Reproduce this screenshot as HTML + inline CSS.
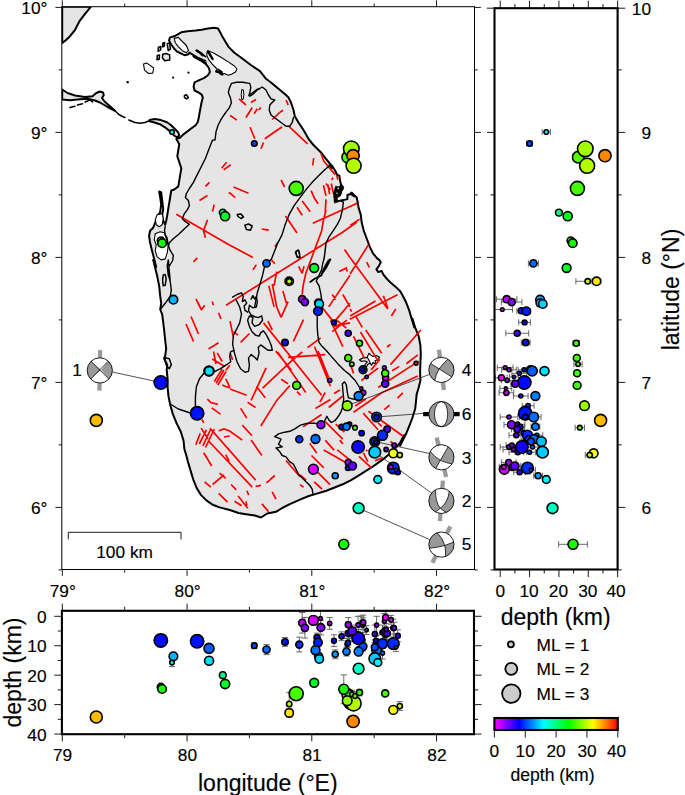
<!DOCTYPE html>
<html><head><meta charset="utf-8"><title>Sri Lanka seismicity</title>
<style>html,body{margin:0;padding:0;background:#fff}svg{display:block}svg text{font-family:"Liberation Sans",sans-serif;stroke:#000;stroke-width:0.15px}</style></head>
<body>
<svg width="685" height="795" viewBox="0 0 685 795" font-family="Liberation Sans, sans-serif">
<rect width="685" height="795" fill="#fff"/>
<defs><clipPath id="mc"><rect x="61.80" y="6.70" width="412.70" height="562.80"/></clipPath>
<clipPath id="rc"><rect x="494.50" y="8.20" width="123.10" height="561.30"/></clipPath>
<clipPath id="bc"><rect x="61.90" y="610.80" width="412.10" height="123.40"/></clipPath>
<linearGradient id="cb" x1="0" x2="1" y1="0" y2="0">
<stop offset="0.000" stop-color="hsl(300,100%,50%)"/>
<stop offset="0.050" stop-color="hsl(285,100%,50%)"/>
<stop offset="0.100" stop-color="hsl(270,100%,50%)"/>
<stop offset="0.150" stop-color="hsl(255,100%,50%)"/>
<stop offset="0.200" stop-color="hsl(240,100%,50%)"/>
<stop offset="0.250" stop-color="hsl(225,100%,50%)"/>
<stop offset="0.300" stop-color="hsl(210,100%,50%)"/>
<stop offset="0.350" stop-color="hsl(195,100%,50%)"/>
<stop offset="0.400" stop-color="hsl(180,100%,50%)"/>
<stop offset="0.450" stop-color="hsl(165,100%,50%)"/>
<stop offset="0.500" stop-color="hsl(150,100%,50%)"/>
<stop offset="0.550" stop-color="hsl(135,100%,50%)"/>
<stop offset="0.600" stop-color="hsl(120,100%,50%)"/>
<stop offset="0.650" stop-color="hsl(105,100%,50%)"/>
<stop offset="0.700" stop-color="hsl(90,100%,50%)"/>
<stop offset="0.750" stop-color="hsl(75,100%,50%)"/>
<stop offset="0.800" stop-color="hsl(60,100%,50%)"/>
<stop offset="0.850" stop-color="hsl(45,100%,50%)"/>
<stop offset="0.900" stop-color="hsl(30,100%,50%)"/>
<stop offset="0.950" stop-color="hsl(15,100%,50%)"/>
<stop offset="1.000" stop-color="hsl(0,100%,50%)"/>
</linearGradient></defs>
<g clip-path="url(#mc)">
<g fill="#e5e5e5" stroke="#000" stroke-width="2" stroke-linejoin="round">
<path d="M62.2,6.8 L90.8,6.8 L85.0,13.8 L79.5,21.2 L77.5,25.0 L75.0,30.0 L70.0,36.2 L65.5,40.5 L62.2,43.0Z"/>
<path d="M62.2,89.5 L67.5,93.0 L75.0,95.5 L85.0,97.0 L92.5,96.2 L96.2,93.0 L100.0,91.5 L103.0,92.5 L103.8,95.0 L102.0,98.0 L105.0,102.0 L110.0,106.2 L115.0,110.8 L107.5,107.0 L100.0,102.5 L95.0,100.5 L87.5,98.8 L80.0,99.2 L70.0,100.2 L62.2,99.5Z"/>
<path d="M170.1,37.4 L174.2,36.3 L181.3,32.3 L187.4,31.2 L195.6,30.6 L201.7,29.8 L207.9,28.6 L214.0,27.8 L218.1,28.6 L220.1,32.3 L222.2,36.3 L225.3,41.5 L228.3,46.6 L234.4,52.7 L242.6,58.8 L250.8,65.0 L260.0,71.1 L266.0,78.8 L271.0,82.5 L278.5,88.8 L286.0,95.0 L288.5,97.5 L291.0,102.5 L293.5,110.0 L294.8,116.2 L298.5,122.5 L303.5,130.0 L308.5,138.8 L313.5,145.0 L318.5,150.0 L322.2,153.8 L326.0,158.8 L331.0,165.0 L334.8,170.0 L337.2,175.0 L339.3,175.6 L340.3,181.7 L341.3,185.8 L338.2,189.9 L335.2,193.0 L334.2,197.1 L337.2,201.2 L343.4,200.1 L347.4,199.1 L347.4,195.0 L350.5,194.0 L353.6,195.0 L356.6,197.1 L357.7,202.2 L358.7,208.3 L360.7,214.4 L361.7,222.6 L363.8,230.8 L366.9,239.0 L369.9,247.1 L373.0,253.3 L377.1,258.4 L379.0,259.6 L380.8,262.2 L379.0,265.8 L376.4,269.3 L378.1,271.9 L381.7,271.1 L383.4,274.6 L387.0,279.0 L390.5,282.5 L395.8,286.9 L400.2,291.3 L402.8,295.7 L406.3,302.8 L409.0,309.8 L411.6,318.6 L414.3,327.4 L412.5,318.8 L415.2,327.6 L418.7,336.4 L420.4,345.2 L420.8,354.1 L420.4,362.9 L420.1,371.7 L420.4,380.5 L418.7,387.5 L416.6,394.6 L416.0,401.6 L415.2,408.7 L412.5,417.5 L409.9,424.5 L406.3,433.3 L402.8,440.4 L400.2,445.7 L404.0,435.2 L400.4,442.3 L396.0,447.6 L390.7,452.9 L384.6,458.1 L378.4,462.6 L372.2,467.0 L365.2,471.4 L358.1,475.8 L351.1,480.2 L344.1,483.7 L335.2,487.2 L326.4,490.7 L317.6,493.4 L308.8,496.0 L300.0,499.6 L289.8,504.2 L282.2,508.0 L276.0,511.8 L267.2,513.5 L261.0,517.5 L254.8,515.5 L246.0,514.2 L238.5,513.0 L229.8,510.0 L219.6,507.4 L212.6,504.8 L206.4,500.4 L201.1,495.1 L196.7,488.1 L193.2,479.3 L190.5,470.4 L187.9,461.6 L186.1,454.6 L184.4,449.3 L183.5,440.5 L180.8,431.7 L176.4,422.9 L172.9,414.1 L170.3,405.2 L168.5,396.4 L167.6,387.6 L167.6,378.8 L166.7,370.0 L167.2,364.7 L164.2,358.7 L165.2,355.6 L166.2,348.6 L165.2,340.5 L164.2,330.5 L163.2,322.4 L162.2,314.4 L160.2,309.3 L161.2,303.3 L160.2,296.2 L159.2,286.2 L157.2,276.1 L155.2,268.1 L153.2,260.0 L156.2,267.0 L154.2,258.9 L152.1,250.9 L150.1,242.8 L149.1,235.8 L150.1,230.7 L153.2,227.7 L155.2,222.7 L158.2,216.6 L160.2,211.6 L161.2,204.6 L160.2,197.5 L159.2,191.5 L161.2,192.5 L162.2,200.5 L163.2,208.6 L162.2,215.6 L163.2,220.7 L165.2,224.7 L166.2,220.7 L167.2,215.6 L168.3,208.6 L169.3,202.5 L170.3,196.5 L171.3,190.5 L174.3,189.5 L178.3,186.4 L179.3,180.4 L180.3,174.4 L181.3,168.3 L179.3,162.3 L177.3,156.2 L178.3,150.2 L179.3,144.2 L176.3,139.1 L180.3,137.5 L183.4,134.4 L187.4,131.4 L191.5,128.3 L195.6,125.3 L197.7,122.2 L198.7,118.1 L199.7,112.0 L200.7,106.9 L201.7,101.7 L202.8,97.7 L201.7,94.6 L198.7,92.6 L194.6,90.5 L193.6,86.4 L194.6,82.3 L198.7,80.3 L203.8,78.2 L207.9,75.2 L209.9,72.1 L208.9,68.0 L205.8,63.9 L200.7,59.9 L194.6,55.8 L189.5,52.7 L188.5,54.3 L184.4,55.2 L181.3,53.7 L177.2,51.7 L174.2,48.6 L171.1,44.5 L169.0,40.4Z"/>
<path d="M149.6,120.1 L154.7,119.1 L160.9,120.1 L167.0,122.2 L171.1,125.3 L175.2,129.3 L178.2,132.4 L179.3,135.5 L177.2,137.5 L174.2,135.5 L170.1,131.4 L165.0,127.3 L159.9,124.2 L153.7,122.2 L149.6,121.2Z"/>
</g>
<g fill="#fff" stroke="#000" stroke-width="1.1" stroke-linejoin="round">
<path d="M207.9,50.7 L213.0,52.7 L220.1,56.8 L228.3,61.9 L234.4,66.0 L236.9,69.0 L235.5,72.1 L231.4,74.2 L228.3,75.2 L224.2,73.5 L221.2,74.8 L218.1,72.1 L216.1,68.0 L212.0,63.9 L208.9,59.9 L206.9,55.8 L206.9,52.7Z"/>
<path d="M174.2,38.4 L178.2,37.4 L182.3,41.5 L186.4,45.5 L188.5,50.7 L186.4,52.7 L182.3,50.7 L178.2,46.6 L175.2,42.5Z"/>
<path d="M157.2,214.6 L162.2,213.6 L163.2,218.7 L162.2,224.7 L159.2,226.7 L156.2,224.7 L155.2,219.7Z"/>
<path d="M155.2,233.8 L160.2,231.7 L164.2,232.7 L167.2,237.8 L168.3,245.8 L167.2,252.9 L165.2,258.9 L161.2,259.9 L157.2,256.9 L155.2,250.9 L156.2,244.8 L154.2,239.8Z"/>
<path d="M367.2,357.2 L369.0,353.2 L370.7,355.1 L372.9,356.5 L376.4,355.5 L379.6,357.2 L377.8,359.7 L375.0,360.7 L375.7,364.3 L372.9,362.5 L371.5,365.3 L370.0,362.9 L369.0,360.2Z"/>
<path d="M143.5,63.9 L146.6,62.9 L153.7,68.0 L152.7,73.1 L148.6,73.5 L144.5,70.1Z"/>
<path d="M296.0,251.0 L298.5,249.8 L299.8,253.5 L299.0,257.8 L296.8,256.0Z"/>
</g>
<path d="M241.8,89.5 L243.4,89.9 L243.9,94.6 L243.2,99.3 L241.8,99.7 L241.2,94.6Z" fill="#e5e5e5" stroke="#000" stroke-width="1"/>
<path d="M370.0,362.9 L367.6,364.6 L366.2,367.4 L364.8,365.0 L367.2,361.8 L364.1,360.7 L361.6,361.5 L359.5,359.7 L363.0,357.9 L367.2,357.6" fill="none" stroke="#000" stroke-width="1.2" stroke-linejoin="round"/>
<g fill="none" stroke="#000" stroke-width="1.5" stroke-linecap="round" stroke-linejoin="round">
<path d="M115.0,110.8 L118.8,114.5 L122.5,116.5 L125.0,117.5"/>
<path d="M128.8,120.0 L135.0,122.5 L140.0,123.2 L145.0,122.5 L150.0,120.5"/>
<path d="M70.0,107.5 L75.0,106.2"/>
<path d="M77.5,105.0 L82.5,103.8"/>
<path d="M85.0,102.0 L90.0,100.0 L92.5,102.0"/>
<path d="M194.6,56.4 L200.7,58.8 L205.8,60.9"/>
<path d="M196.6,50.7 L201.7,53.7 L205.8,56.8"/>
<path d="M218.1,69.0 L222.2,72.1 L220.1,73.5"/>
<path d="M184.4,95.6 L186.4,94.8 L188.5,97.7 L186.4,98.9 L184.4,97.3 L184.4,95.6"/>
<path d="M237.2,214.5 L241.0,214.0 L243.5,217.0 L241.0,218.5 L238.0,216.5 L237.2,214.5"/>
<path d="M244.8,225.2 L248.5,224.0 L252.2,226.0 L250.5,230.2 L246.5,229.5 L244.8,225.2"/>
<path d="M163.2,275.1 L165.2,274.5 L166.2,279.1 L165.2,285.2 L163.2,285.8 L162.6,280.1 L163.2,275.1"/>
<path d="M164.2,357.6 L169.3,358.7 L171.3,364.7 L169.3,368.7 L166.6,365.7 L164.2,357.6"/>
<path d="M295.3,252.3 L298.4,250.2 L299.4,254.3 L300.4,258.4 L297.4,257.4 L295.3,252.3"/>
</g>
<g fill="none" stroke="#000" stroke-width="1.8" stroke-linecap="round" stroke-linejoin="round">
<path d="M310.2,281.9 L314.6,278.7 L319.0,276.6 L321.6,275.2"/>
<path d="M321.6,274.3 L326.0,268.1 L328.7,262.8 L330.4,259.3 L328.7,260.2 L326.0,264.6 L323.4,269.9 L321.6,274.3"/>
</g>
<g fill="#e5e5e5" stroke="#000" stroke-width="1.5" stroke-linejoin="round">
<path d="M158.5,47.2 L160.9,46.6 L160.5,50.1 L158.0,51.3Z"/>
<path d="M162.8,43.2 L164.6,42.5 L164.3,46.2 L162.6,46.9Z"/>
<path d="M157.3,55.4 L159.5,54.9 L159.2,59.3 L157.0,59.7Z"/>
<path d="M162.8,54.2 L166.1,53.5 L169.7,54.9 L169.7,60.0 L164.6,60.8 L162.4,57.8Z"/>
<path d="M167.2,43.7 L169.7,42.8 L170.4,49.1 L168.2,50.5Z"/>
</g>
<g fill="none" stroke="#000" stroke-width="2.6" stroke-linecap="round" stroke-linejoin="round">
<path d="M193.8,56.4 L200.4,60.0 L205.5,63.2"/>
<path d="M196.7,50.5 L200.4,53.0 L202.8,55.2"/>
<path d="M208.1,51.6 L210.1,54.9 L212.5,58.9"/>
<path d="M216.4,71.4 L219.8,72.0 L222.3,74.3"/>
</g>
<path d="M335.7,186.2 L338.2,186.9 L341.9,184.6 L343.7,186.9 L343.2,189.5 L341.9,191.3 L341.2,194.2 L339.9,196.4 L337.9,197.1 L336.9,199.2 L339.1,201.4 L337.2,202.1 L334.6,203.1 L334.0,200.0 L335.0,196.5 L333.0,193.6 L334.6,189.8Z" fill="#000" stroke="#000" stroke-width="0.8" stroke-linejoin="round"/>
<path d="M350.3,192.4 L352.1,192.0 L354.3,194.2 L356.1,196.4 L354.3,197.1 L352.1,195.7Z" fill="#000" stroke="#000" stroke-width="0.8" stroke-linejoin="round"/>
<path d="M327.3,165.4 L332.4,165.0 L333.9,167.9 L330.9,168.6 L328.8,167.6Z" fill="#000" stroke="#000" stroke-width="0.8" stroke-linejoin="round"/>
<circle cx="338.3" cy="188.3" r="0.9" fill="#ddd"/><circle cx="337" cy="193.2" r="0.8" fill="#ddd"/>
<circle cx="127.8" cy="82.3" r="1.1" fill="#000"/>
<circle cx="173.1" cy="77.6" r="1.1" fill="#000"/>
<circle cx="188.5" cy="72.7" r="1.1" fill="#000"/>
<circle cx="127.5" cy="82.0" r="1.1" fill="#000"/>
<g fill="none" stroke="#f00" stroke-width="1.7" stroke-linecap="butt">
<path d="M226.0,305.2 L341.8,232.8 M341.8,232.8 L357.0,222.0 M312.8,223.2 L350.0,206.4 M230.0,245.2 L252.9,257.5 M233.5,187.0 L248.5,193.2 M230.0,193.2 L235.3,197.6 M261.7,229.0 L268.8,230.2 M285.5,216.1 L297.0,232.9 M297.0,207.3 L302.2,215.2 M302.2,201.1 L310.2,211.7 M311.1,190.6 L314.6,198.5 L318.1,203.8 M326.0,183.5 L330.4,189.7 M326.0,210.0 L323.4,220.5 L321.6,231.1 L305.8,273.4 L303.1,285.7 L302.2,294.5 M298.7,266.3 L302.2,273.4 M304.0,266.3 L302.2,273.4 M268.8,285.7 L274.1,306.9 M272.3,284.0 L276.7,306.9 M276.7,271.6 L274.1,285.7 M282.9,291.0 L286.4,303.3 M288.1,301.6 L281.1,317.4 M276.7,306.9 L281.1,317.4 M252.9,269.9 L256.4,264.6 M271.4,260.2 L274.9,263.7 M274.9,247.0 L277.6,242.6 M344.5,249.6 L350.0,257.5 M339.3,271.6 L346.3,268.1 L347.2,271.6 M328.7,306.9 L350.0,275.2 M342.8,294.5 L350.0,306.9 M332.2,294.5 L335.7,299.8 M321.6,306.9 L332.2,320.1 M335.7,320.1 L350.0,303.3 M323.4,185.3 L326.0,195.9 M327.8,184.4 L329.6,194.1 M331.3,183.5 L333.1,192.3 M326.0,199.4 L325.2,213.5 M281.1,180.0 L284.6,187.0 M293.4,341.4 L303.5,319.6 M307.5,347.6 L320.7,337.9 M288.1,357.3 L325.2,354.6 M262.6,388.1 L292.6,359.9 L302.2,352.0 M275.8,351.1 L291.7,370.5 M277.6,352.0 L305.8,392.5 M263.5,322.9 L321.6,395.2 M314.6,346.7 L330.4,386.3 M318.1,351.1 L328.7,377.5 M319.9,402.2 L325.2,392.5 M315.5,408.4 L330.4,399.6 M260.8,426.0 L276.7,400.4 L289.9,385.5 M281.1,379.3 L288.1,383.7 M297.0,391.6 L300.5,395.2 M251.1,400.4 L266.1,367.8 M256.4,386.3 L265.2,397.8 M247.6,402.2 L255.6,407.5 M230.0,389.0 L246.7,395.2 M240.6,408.4 L246.7,418.1 M242.3,425.1 L252.0,435.7 M230.0,431.3 L242.3,440.1 M230.0,321.1 L233.5,337.9 M240.6,342.3 L249.4,333.5 M233.5,331.7 L237.9,335.2 M330.6,320.4 L342.8,346.7 M332.2,331.7 L346.8,320.1 M332.2,326.4 L350.0,322.9 M336.3,319.9 L346.3,328.2 M303.1,426.9 L321.6,414.5 M328.7,407.5 L342.8,396.0 M334.0,393.4 L340.1,389.9 M325.2,421.6 L342.8,439.2 M335.7,424.2 L344.5,432.2 M267.9,321.1 L272.3,330.0 M230.0,352.9 L232.6,359.9 M349.7,206.8 L357.0,203.2 M350.2,225.4 L359.6,219.1 M350.1,274.0 L368.5,244.6 M350.0,257.5 L387.8,308.9 M349.8,319.3 L397.5,294.8 M350.2,315.9 L375.5,301.0 M383.4,295.7 L387.8,308.1 M391.4,316.0 L395.8,308.9 M366.7,262.2 L369.3,267.5 M350.1,308.8 L351.7,311.6 M356.1,316.9 L362.3,327.4 M365.7,330.0 L381.7,353.2 M360.5,332.0 L378.1,361.1 M353.5,336.4 L364.1,357.6 M387.0,347.0 L390.5,344.4 M390.5,364.6 L420.8,330.0 M406.3,363.7 L417.8,354.9 M392.2,370.8 L399.3,366.4 M378.1,387.5 L418.7,361.1 M353.5,412.2 L381.7,392.8 L417.8,376.1 M397.5,398.1 L402.8,392.8 M384.3,409.6 L389.6,405.2 M363.2,413.1 L378.1,429.8 M368.5,411.3 L402.8,436.0 M371.1,369.9 L379.9,359.3 M361.4,380.5 L378.1,368.1 M350.0,362.9 L353.5,373.4 M339.8,440.1 L342.9,443.9 M325.3,440.4 L334.1,450.1 M390.5,441.3 L397.5,447.4 M378.1,422.8 L381.7,426.3 M355.2,406.0 L365.8,399.0 M337.2,449.9 L351.1,460.8 M323.7,450.0 L345.8,462.6 M309.7,443.2 L316.7,452.9 M311.5,455.5 L323.8,467.8 M317.6,472.2 L330.0,484.6 M314.1,481.9 L322.0,489.0 M300.0,474.9 L306.2,480.2 M300.0,484.6 L303.5,487.2 M359.0,456.4 L371.4,467.8 M363.4,452.9 L367.8,461.7 M366.1,451.1 L367.3,449.9 M374.9,460.8 L381.9,458.1 M216.1,383.2 L224.0,370.0 M214.3,381.5 L222.2,369.1 M217.8,385.0 L226.1,371.4 M222.2,385.0 L229.6,388.0 M225.8,378.8 L229.9,387.6 M207.3,399.1 L210.8,402.6 L217.8,404.4 M211.7,407.9 L220.5,414.1 M202.0,419.3 L203.7,422.9 M195.8,444.9 L200.2,433.4 M199.3,444.0 L206.4,429.9 M202.9,445.8 L210.8,429.0 M205.5,447.5 L214.3,429.0 M201.1,428.1 L208.1,438.7 M218.7,430.8 L224.0,429.0 L229.3,430.8 L230.0,431.4 M224.0,437.0 L229.7,436.0 M251.1,440.0 L261.9,455.5 M209.9,428.1 L255.7,480.1 M208.1,440.5 L252.2,487.2 M225.8,454.6 L229.3,461.6 M203.7,452.8 L211.7,466.0 M212.6,484.5 L224.0,474.8 M219.6,473.1 L225.8,478.4 M204.6,481.9 L210.8,487.2 M231.1,484.5 L236.3,489.8 M218.7,493.3 L227.5,502.2 M234.6,501.3 L241.6,505.7 M238.1,496.0 L247.8,508.3 M246.9,490.7 L248.7,495.1 M246.0,501.3 L246.9,505.7 M255.7,486.3 L261.0,485.4 M266.3,482.8 L270.0,480.1 M261.9,503.9 L267.2,510.1 M289.2,126.6 L307.6,143.9 M312.7,165.4 L313.7,158.2 M320.9,153.1 L323.9,161.3 L335.2,174.6 M331.6,179.9 L333.1,177.7 M336.8,175.6 L337.9,179.8 M286.1,100.0 L288.2,105.1 M280.0,112.3 L283.1,110.2 M280.0,128.6 L282.0,126.6 M176.3,214.2 L229.8,245.2 M207.5,219.7 L203.5,230.7 L205.5,237.8 M221.6,168.3 L226.6,162.3 M223.6,169.9 L230.7,164.7 M205.5,186.4 L209.5,182.4 M199.5,200.5 L207.5,195.5 M228.7,192.5 L230.1,193.5 M212.5,211.6 L214.2,204.6 M193.4,261.9 L197.4,257.9 M239.0,98.8 L246.0,105.0 M251.0,102.5 L256.0,99.5 M246.0,117.5 L252.2,107.5 M254.2,113.8 L257.2,108.8 M258.5,110.0 L261.0,107.5 M230.2,115.5 L236.9,120.1 M250.1,127.2 L254.8,138.8 M264.8,138.8 L280.3,128.0 M272.2,119.5 L279.8,112.3 M261.0,148.8 L263.5,142.5 M196.0,299.0 L201.0,309.0 M191.0,316.5 L198.5,334.0 M186.0,324.0 L193.5,341.5 M201.0,310.2 L204.8,305.2 M212.2,301.5 L213.5,305.2 M218.5,312.8 L221.0,319.0 M208.5,349.0 L218.5,342.8 M213.5,351.5 L216.0,364.0 M217.2,352.8 L222.2,361.5 M212.2,359.0 L224.8,366.5 M225.8,370.2 L229.8,365.2 M269.8,479.8 L274.8,475.5 M267.0,509.8 L268.5,511.8 M272.2,491.8 L276.0,499.2 M286.0,460.5 L299.9,476.8"/>
</g>
<g fill="none" stroke="#000" stroke-width="1.4" stroke-linejoin="round" stroke-linecap="round">
<path d="M260.0,88.5 L256.9,89.5 L252.8,92.6 L248.8,95.6 L249.8,92.6 L250.8,87.4 L249.8,83.4 L242.6,82.3 L236.5,82.3 L231.4,83.4 L229.3,88.5 L228.3,92.6 L230.4,97.7 L231.4,102.8 L229.3,107.9 L225.3,113.0 L221.2,119.1 L218.1,125.3 L216.1,131.4 L215.0,140.0 L212.5,140.1 L208.5,150.2 L205.5,158.3 L201.5,166.3 L197.4,174.4 L193.4,182.4 L189.4,188.5 L186.4,193.5 L185.4,197.5 L188.4,200.5 L189.4,205.6 L187.4,209.6 L184.4,213.6 L182.3,218.7 L185.4,221.7 L189.4,224.3 L184.4,228.7 L179.3,233.8 L173.3,238.8 L169.3,242.8 L168.3,246.8"/>
<path d="M249.8,96.2 L253.5,93.8 L257.2,90.0 L262.2,87.0 L266.0,90.0 L268.5,95.0 L271.0,98.8 L274.8,100.0 L272.2,102.5 L269.8,105.0 L269.2,110.0 L271.0,115.0 L276.0,118.8 L281.0,122.5 L286.0,126.2 L289.8,126.2 L292.2,122.5 L293.5,117.5"/>
<path d="M330.1,165.4 L325.0,169.5 L318.8,175.6 L312.7,181.7 L306.6,188.9 L300.4,197.1 L294.3,205.3 L289.2,214.4 L285.1,224.7 L282.0,234.9 L277.6,243.4 L274.1,252.2 L271.4,259.3 L267.9,261.9 L264.4,267.2 L262.6,275.2 L260.0,284.0 L257.3,292.8 L255.6,301.6 L254.7,306.9"/>
<path d="M341.3,201.2 L343.4,202.2 L342.3,210.4 L340.3,218.5 L337.2,224.7 L333.1,230.8 L329.0,236.9 L326.0,243.1 L325.0,251.2 L323.9,260.0 L326.0,243.4 L325.2,250.5 L324.3,257.5 L322.5,264.6 L321.6,269.9 L319.0,275.2 L316.3,281.3 L319.0,285.7 L320.7,292.8 L321.6,299.8 L321.6,303.3 L317.2,310.6 L317.2,317.6 L317.2,326.4 L317.8,335.2 L319.0,342.3 L321.6,345.8 L326.0,350.2 L331.3,356.4 L337.5,363.4 L344.5,370.5 L350.0,374.9 L350.8,376.1 L355.2,380.5 L359.6,387.5 L361.4,392.8"/>
<path d="M236.2,300.0 L239.7,307.0 L241.5,314.1 L239.7,322.9 L236.2,330.0 L233.5,335.2 L232.6,344.1 L234.4,352.9 L237.0,361.7 L240.6,368.7 L245.0,372.2 L248.5,371.4 L249.4,365.2 L248.5,358.1 L251.1,354.6 L254.7,357.3 L257.3,359.9 L259.1,352.9 L258.2,347.6 L260.8,344.9 L264.4,347.6 L267.9,350.2 L272.3,350.2 L271.4,345.8 L268.8,339.6 L266.1,334.4 L263.5,330.8 L260.8,332.6 L259.1,336.1 L255.6,335.2 L252.0,331.7 L249.4,326.4 L247.6,320.3 L249.4,315.9 L252.9,317.6 L252.0,322.9 L254.7,326.4 L259.1,324.7 L262.6,320.3 L261.7,315.9 L258.2,317.6 L254.7,316.7 L251.1,315.0 L248.5,310.6 L249.4,305.3 L252.9,307.9 L256.4,307.0 L257.3,301.8 L256.4,296.5 L254.7,299.1 L252.9,295.6 L251.1,299.1"/>
<path d="M232.6,297.2 L237.0,294.5 L241.5,292.8 L243.2,296.3 L242.3,301.6 L245.0,299.8 L246.7,303.3 L244.1,306.0 L245.0,310.4 L247.6,312.2"/>
<path d="M233.7,350.6 L230.7,351.6 L229.7,356.6 L230.7,361.7 L226.6,364.7 L220.6,368.7 L214.6,371.7 L206.5,370.7 L203.5,373.8 L199.5,378.8 L196.4,386.8 L195.4,396.9 L195.4,409.0 L190.4,413.0 L178.3,409.0 L170.3,404.0"/>
<path d="M274.9,436.6 L278.5,433.9 L284.6,432.2 L289.9,431.3 L295.2,428.6 L300.5,425.1 L307.5,423.3 L314.6,423.3 L319.9,424.2 L324.3,421.6 L326.9,416.3 L328.7,419.8 L331.3,422.5 L334.8,420.7 L338.4,416.3 L341.0,411.9 L342.8,406.6 L343.7,398.7 L342.8,389.9 L342.4,383.7 L344.5,381.9 L346.3,384.6 L347.2,391.6 L348.4,397.8 L351.6,398.7 L356.9,399.6"/>
<path d="M274.9,436.6 L281.0,439.2 L278.5,444.2 L282.2,446.8 L276.0,448.0 L279.8,451.8 L282.2,455.5 L286.0,456.8 L289.8,461.8 L293.5,464.2 L296.0,469.2 L298.5,474.2 L304.8,480.5 L309.8,485.5 L312.2,489.2 L313.0,494.2"/>
<path d="M165.2,226.5 L164.5,230.3 L165.2,235.3 L167.0,240.3 L168.3,245.4 L170.2,250.4 L173.3,255.4 L172.7,260.5 L169.6,265.5 L167.7,270.5 L168.3,275.6 L170.2,280.6 L168.3,260.0 L167.2,266.0 L168.3,274.1 L170.3,282.1 L171.3,290.2 L170.3,296.2 L165.2,303.3 L161.2,308.3"/>
</g>
<path d="M68.3,539.3 V532.3 H181 V539.3" fill="none" stroke="#000" stroke-width="0.9"/>
<text x="124.6" y="558" font-size="17.3" text-anchor="middle">100 km</text>
</g>
<g stroke="#1a1a1a" stroke-width="0.75">
<line x1="112.4" y1="372.0" x2="160.8" y2="382.5"/>
<line x1="429.3" y1="374.5" x2="347.2" y2="405.7"/>
<line x1="428.8" y1="413.0" x2="376.6" y2="417.0"/>
<line x1="429.5" y1="453.5" x2="374.8" y2="441.5"/>
<line x1="431.5" y1="493.0" x2="374.8" y2="452.2"/>
<line x1="429.5" y1="539.5" x2="358.6" y2="508.2"/>
</g>
<g stroke="#000" stroke-width="1.6">
<circle cx="358.1" cy="447.0" r="2.2" fill="hsl(278,100%,50%)"/>
<circle cx="358.1" cy="447.0" r="2.0" fill="hsl(218,100%,50%)"/>
<circle cx="382.5" cy="435.3" r="2.5" fill="hsl(259,100%,50%)"/>
<circle cx="382.5" cy="435.3" r="2.0" fill="hsl(206,100%,50%)"/>
<circle cx="393.3" cy="468.0" r="2.5" fill="hsl(270,100%,50%)"/>
<circle cx="374.8" cy="452.2" r="2.5" fill="hsl(255,100%,50%)"/>
<circle cx="374.8" cy="452.2" r="2.0" fill="hsl(225,100%,50%)"/>
<circle cx="376.6" cy="417.0" r="2.0" fill="hsl(278,100%,50%)"/>
<circle cx="358.6" cy="396.0" r="2.0" fill="hsl(248,100%,50%)"/>
<circle cx="347.2" cy="405.7" r="2.2" fill="hsl(229,100%,50%)"/>
<circle cx="385.2" cy="373.3" r="2.0" fill="hsl(251,100%,50%)"/>
<circle cx="363.0" cy="369.8" r="2.0" fill="hsl(278,100%,50%)"/>
<circle cx="172.0" cy="132.0" r="2.3" fill="hsl(182,100%,50%)"/>
<circle cx="254.3" cy="143.5" r="2.8" fill="hsl(225,100%,50%)"/>
<circle cx="347.8" cy="157.2" r="5.8" fill="hsl(100,100%,50%)"/>
<circle cx="351.3" cy="148.8" r="7.8" fill="hsl(82,100%,50%)"/>
<circle cx="353.1" cy="155.7" r="6.1" fill="hsl(32,100%,50%)"/>
<circle cx="353.6" cy="165.8" r="7.5" fill="hsl(78,100%,50%)"/>
<circle cx="222.8" cy="212.6" r="3.4" fill="hsl(150,100%,50%)"/>
<circle cx="225.1" cy="216.2" r="4.6" fill="hsl(128,100%,50%)"/>
<circle cx="160.9" cy="240.6" r="3.6" fill="hsl(120,100%,50%)"/>
<circle cx="162.1" cy="243.2" r="4.3" fill="hsl(115,100%,50%)"/>
<circle cx="266.5" cy="263.4" r="3.6" fill="hsl(215,100%,50%)"/>
<circle cx="314.2" cy="268.0" r="4.4" fill="hsl(130,100%,50%)"/>
<circle cx="289.2" cy="281.3" r="4.2" fill="hsl(54,100%,50%)"/>
<circle cx="289.2" cy="281.3" r="2.7" fill="hsl(76,100%,50%)"/>
<circle cx="302.2" cy="299.2" r="3.6" fill="hsl(284,100%,50%)"/>
<circle cx="304.9" cy="302.1" r="3.6" fill="hsl(271,100%,50%)"/>
<circle cx="173.4" cy="299.7" r="4.3" fill="hsl(198,100%,50%)"/>
<circle cx="318.6" cy="303.0" r="4.0" fill="hsl(198,100%,50%)"/>
<circle cx="319.3" cy="304.0" r="4.2" fill="hsl(191,100%,50%)"/>
<circle cx="320.5" cy="309.5" r="1.8" fill="hsl(295,100%,50%)"/>
<circle cx="317.0" cy="310.8" r="3.0" fill="hsl(246,100%,50%)"/>
<circle cx="318.0" cy="311.2" r="4.2" fill="hsl(233,100%,50%)"/>
<circle cx="334.0" cy="322.4" r="2.4" fill="hsl(238,100%,50%)"/>
<circle cx="348.2" cy="333.3" r="3.0" fill="hsl(256,100%,50%)"/>
<circle cx="285.0" cy="342.6" r="3.2" fill="hsl(235,100%,50%)"/>
<circle cx="359.5" cy="343.2" r="3.0" fill="hsl(106,100%,50%)"/>
<circle cx="348.2" cy="358.0" r="3.5" fill="hsl(104,100%,50%)"/>
<circle cx="351.8" cy="364.2" r="2.2" fill="hsl(101,100%,50%)"/>
<circle cx="416.0" cy="363.2" r="1.9" fill="hsl(4,100%,50%)"/>
<circle cx="384.3" cy="367.6" r="1.9" fill="hsl(287,100%,50%)"/>
<circle cx="363.0" cy="369.8" r="3.9" fill="hsl(223,100%,50%)"/>
<circle cx="363.0" cy="369.8" r="2.0" fill="hsl(239,100%,50%)"/>
<circle cx="209.0" cy="371.0" r="5.0" fill="hsl(218,100%,50%)"/>
<circle cx="209.1" cy="371.1" r="4.5" fill="hsl(187,100%,50%)"/>
<circle cx="385.6" cy="377.8" r="3.0" fill="hsl(297,100%,50%)"/>
<circle cx="385.2" cy="373.3" r="3.5" fill="hsl(104,100%,50%)"/>
<circle cx="366.6" cy="377.0" r="1.7" fill="hsl(265,100%,50%)"/>
<circle cx="329.7" cy="380.3" r="2.1" fill="hsl(282,100%,50%)"/>
<circle cx="160.8" cy="382.5" r="6.7" fill="hsl(238,100%,50%)"/>
<circle cx="385.2" cy="383.8" r="3.5" fill="hsl(262,100%,50%)"/>
<circle cx="296.6" cy="385.4" r="3.9" fill="hsl(104,100%,50%)"/>
<circle cx="296.2" cy="188.4" r="7.0" fill="hsl(103,100%,50%)"/>
<circle cx="361.4" cy="388.4" r="1.5" fill="hsl(286,100%,50%)"/>
<circle cx="363.2" cy="392.8" r="2.6" fill="hsl(284,100%,50%)"/>
<circle cx="358.6" cy="396.0" r="4.4" fill="hsl(210,100%,50%)"/>
<circle cx="347.2" cy="405.7" r="4.8" fill="hsl(85,100%,50%)"/>
<circle cx="197.1" cy="413.3" r="6.7" fill="hsl(236,100%,50%)"/>
<circle cx="376.6" cy="417.0" r="4.8" fill="hsl(214,100%,50%)"/>
<circle cx="376.6" cy="417.0" r="2.6" fill="hsl(236,100%,50%)"/>
<circle cx="96.3" cy="420.4" r="6.0" fill="hsl(44,100%,50%)"/>
<circle cx="320.9" cy="424.7" r="3.9" fill="hsl(272,100%,50%)"/>
<circle cx="349.5" cy="424.3" r="2.2" fill="hsl(256,100%,50%)"/>
<circle cx="341.6" cy="427.0" r="2.6" fill="hsl(249,100%,50%)"/>
<circle cx="346.5" cy="426.7" r="3.6" fill="hsl(210,100%,50%)"/>
<circle cx="355.0" cy="427.7" r="2.3" fill="hsl(97,100%,50%)"/>
<circle cx="387.1" cy="429.3" r="3.2" fill="hsl(256,100%,50%)"/>
<circle cx="361.6" cy="433.2" r="2.6" fill="hsl(240,100%,50%)"/>
<circle cx="382.5" cy="435.3" r="5.0" fill="hsl(230,100%,50%)"/>
<circle cx="299.3" cy="439.3" r="3.5" fill="hsl(228,100%,50%)"/>
<circle cx="315.5" cy="439.0" r="4.4" fill="hsl(214,100%,50%)"/>
<circle cx="374.8" cy="441.5" r="4.8" fill="hsl(195,100%,50%)"/>
<circle cx="374.8" cy="441.5" r="3.4" fill="hsl(221,100%,50%)"/>
<circle cx="375.8" cy="442.3" r="2.2" fill="hsl(238,100%,50%)"/>
<circle cx="394.2" cy="445.3" r="2.3" fill="hsl(270,100%,50%)"/>
<circle cx="358.1" cy="447.0" r="6.2" fill="hsl(244,100%,50%)"/>
<circle cx="386.1" cy="449.5" r="2.1" fill="hsl(266,100%,50%)"/>
<circle cx="374.8" cy="452.2" r="5.8" fill="hsl(192,100%,50%)"/>
<circle cx="393.3" cy="453.3" r="4.4" fill="hsl(62,100%,50%)"/>
<circle cx="399.8" cy="455.1" r="2.6" fill="hsl(71,100%,50%)"/>
<circle cx="348.0" cy="468.0" r="2.5" fill="hsl(232,100%,50%)"/>
<circle cx="348.3" cy="462.5" r="3.0" fill="hsl(278,100%,50%)"/>
<circle cx="352.4" cy="466.0" r="4.0" fill="hsl(262,100%,50%)"/>
<circle cx="313.4" cy="469.2" r="4.9" fill="hsl(290,100%,50%)"/>
<circle cx="393.3" cy="468.0" r="5.8" fill="hsl(230,100%,50%)"/>
<circle cx="391.0" cy="467.0" r="2.3" fill="hsl(291,100%,50%)"/>
<circle cx="397.8" cy="472.2" r="2.5" fill="hsl(250,100%,50%)"/>
<circle cx="396.0" cy="470.0" r="1.7" fill="hsl(221,100%,50%)"/>
<circle cx="335.2" cy="475.7" r="3.0" fill="hsl(203,100%,50%)"/>
<circle cx="377.8" cy="479.5" r="3.9" fill="hsl(182,100%,50%)"/>
<circle cx="358.6" cy="508.2" r="5.4" fill="hsl(166,100%,50%)"/>
<circle cx="343.8" cy="544.3" r="5.0" fill="hsl(114,100%,50%)"/>
</g>
<rect x="61.80" y="6.70" width="412.70" height="562.80" fill="none" stroke="#000" stroke-width="1"/>
<path d="M62.30,569.50 v6.4 M62.30,6.70 v-6.4 M124.67,569.50 v3.2 M124.67,6.70 v-3.2 M187.05,569.50 v6.4 M187.05,6.70 v-6.4 M249.43,569.50 v3.2 M249.43,6.70 v-3.2 M311.80,569.50 v6.4 M311.80,6.70 v-6.4 M374.18,569.50 v3.2 M374.18,6.70 v-3.2 M436.55,569.50 v6.4 M436.55,6.70 v-6.4 M61.80,569.90 h-3.2 M474.50,569.90 h3.2 M61.80,507.40 h-6.4 M474.50,507.40 h6.4 M61.80,444.90 h-3.2 M474.50,444.90 h3.2 M61.80,382.40 h-6.4 M474.50,382.40 h6.4 M61.80,319.90 h-3.2 M474.50,319.90 h3.2 M61.80,257.40 h-6.4 M474.50,257.40 h6.4 M61.80,194.90 h-3.2 M474.50,194.90 h3.2 M61.80,132.40 h-6.4 M474.50,132.40 h6.4 M61.80,69.90 h-3.2 M474.50,69.90 h3.2 M61.80,7.40 h-6.4 M474.50,7.40 h6.4" stroke="#000" stroke-width="0.9" fill="none"/>
<g font-size="17.3">
<text x="47.5" y="513.9" text-anchor="end">6°</text>
<text x="47.5" y="388.9" text-anchor="end">7°</text>
<text x="47.5" y="263.9" text-anchor="end">8°</text>
<text x="47.5" y="138.9" text-anchor="end">9°</text>
<text x="47.5" y="13.9" text-anchor="end">10°</text>
<text x="62.8" y="596.5" text-anchor="middle">79°</text>
<text x="187.6" y="596.5" text-anchor="middle">80°</text>
<text x="312.3" y="596.5" text-anchor="middle">81°</text>
<text x="437.1" y="596.5" text-anchor="middle">82°</text>
</g>
<g transform="translate(99.80,370.40)"><rect x="-2.15" y="-20.25" width="4.30" height="40.50" fill="#999" transform="rotate(1.0)"/><g transform="scale(12.60)"><circle r="1" fill="#fff"/><path d="M0.10,-0.03 L-0.69,-0.72 A1,1 0 0 0 -0.72,0.69 Z" fill="#999"/><path d="M0.10,-0.03 L0.67,-0.74 A1,1 0 0 1 0.72,0.69 Z" fill="#999"/><path d="M-0.69,-0.72 L0.72,0.69" fill="none" stroke="#000" stroke-width="0.06"/><path d="M0.67,-0.74 L-0.72,0.69" fill="none" stroke="#000" stroke-width="0.06"/><circle r="1" fill="none" stroke="#000" stroke-width="0.07"/></g></g>
<g transform="translate(441.40,369.90)"><rect x="-2.15" y="-20.25" width="4.30" height="40.50" fill="#999" transform="rotate(-7.0)"/><g transform="scale(12.60)"><circle r="1" fill="#fff"/><path d="M-0.169,-0.078 Q0.085,-0.482 0.516,-0.857 A1,1 0 0 1 0.83,0.56 Z" fill="#999"/><path d="M-0.169,-0.078 L-0.86,-0.51 A1,1 0 0 0 -0.52,0.854 Q-0.456,0.37 -0.169,-0.078 Z" fill="#999"/><path d="M-0.86,-0.51 L0.83,0.56" fill="none" stroke="#000" stroke-width="0.06"/><path d="M0.516,-0.857 Q-0.4,-0.06 -0.52,0.854" fill="none" stroke="#000" stroke-width="0.06"/><circle r="1" fill="none" stroke="#000" stroke-width="0.07"/></g></g>
<g transform="translate(441.40,414.10)"><rect x="-2.15" y="-18.25" width="4.30" height="36.50" fill="#000" transform="rotate(90.0)"/><g transform="scale(12.60)"><circle r="1" fill="#fff"/><path d="M0,-1 A1,1 0 0 0 0,1 A0.55,1 0 0 1 0,-1 Z" fill="#999"/><path d="M0,-1 A1,1 0 0 1 0,1 A0.5,1 0 0 0 0,-1 Z" fill="#999"/><path d="M0,-1 A0.55,1 0 0 0 0,1" fill="none" stroke="#000" stroke-width="0.06"/><path d="M0,-1 A0.5,1 0 0 1 0,1" fill="none" stroke="#000" stroke-width="0.06"/><circle r="1" fill="none" stroke="#000" stroke-width="0.07"/></g></g>
<g transform="translate(441.40,457.30)"><rect x="-2.15" y="-20.25" width="4.30" height="40.50" fill="#999" transform="rotate(-13.6)"/><g transform="scale(12.60)"><circle r="1" fill="#fff"/><path d="M-0.083,0.236 Q-0.6,-0.05 -0.875,-0.47 A1,1 0 0 0 -0.444,0.895 Z" fill="#999"/><path d="M-0.083,0.236 L0.54,-0.84 A1,1 0 0 1 0.85,0.52 Q0.4,0.46 -0.083,0.236 Z" fill="#999"/><path d="M-0.875,-0.47 Q-0.6,-0.05 -0.083,0.236 Q0.4,0.46 0.85,0.52" fill="none" stroke="#000" stroke-width="0.06"/><path d="M0.54,-0.84 L-0.083,0.236 L-0.444,0.895" fill="none" stroke="#000" stroke-width="0.06"/><circle r="1" fill="none" stroke="#000" stroke-width="0.07"/></g></g>
<g transform="translate(441.40,500.90)"><rect x="-2.15" y="-20.25" width="4.30" height="40.50" fill="#999" transform="rotate(4.2)"/><g transform="scale(12.60)"><circle r="1" fill="#fff"/><path d="M-0.083,0.583 Q-0.5,0.1 -0.458,-0.889 A1,1 0 0 0 -0.47,0.883 Z" fill="#999"/><path d="M-0.083,0.583 Q0.52,0.15 0.63,-0.777 A1,1 0 0 1 0.42,0.907 Q0.15,0.8 -0.083,0.583 Z" fill="#999"/><path d="M-0.458,-0.889 Q-0.5,0.1 -0.083,0.583 Q0.15,0.8 0.42,0.907" fill="none" stroke="#000" stroke-width="0.06"/><path d="M0.63,-0.777 Q0.52,0.15 -0.083,0.583 L-0.47,0.883" fill="none" stroke="#000" stroke-width="0.06"/><circle r="1" fill="none" stroke="#000" stroke-width="0.07"/></g></g>
<g transform="translate(441.40,544.60)"><rect x="-2.15" y="-20.25" width="4.30" height="40.50" fill="#999" transform="rotate(26.3)"/><g transform="scale(12.60)"><circle r="1" fill="#fff"/><path d="M0.264,0.07 Q0.12,-0.5 -0.34,-0.94 A1,1 0 0 0 -0.957,0.29 Q-0.3,0.24 0.264,0.07 Z" fill="#999"/><path d="M0.264,0.07 L0.98,-0.2 A1,1 0 0 1 0.33,0.944 Q0.36,0.5 0.264,0.07 Z" fill="#999"/><path d="M-0.34,-0.94 Q0.12,-0.5 0.264,0.07 Q0.36,0.5 0.33,0.944" fill="none" stroke="#000" stroke-width="0.06"/><path d="M-0.957,0.29 Q-0.3,0.24 0.264,0.07 L0.98,-0.2" fill="none" stroke="#000" stroke-width="0.06"/><circle r="1" fill="none" stroke="#000" stroke-width="0.07"/></g></g>
<g font-size="17.3">
<text x="72.2" y="376.2">1</text>
<text x="461.8" y="375.8">4</text>
<text x="461.8" y="419.9">6</text>
<text x="461.8" y="463.5">3</text>
<text x="461.8" y="506.8">2</text>
<text x="461.8" y="550.4">5</text>
</g>
<g clip-path="url(#rc)">
<path d="M500.2,447.0 H517.8 M500.2,443.9 v6.2 M517.8,443.9 v6.2 M526.6,447.0 H538.4 M526.6,443.9 v6.2 M538.4,443.9 v6.2 M509.0,435.3 H523.7 M509.0,432.2 v6.2 M523.7,432.2 v6.2 M531.0,435.3 H542.8 M531.0,432.2 v6.2 M542.8,432.2 v6.2 M503.1,468.0 H520.8 M503.1,464.9 v6.2 M520.8,464.9 v6.2 M509.0,452.2 H526.6 M509.0,449.1 v6.2 M526.6,449.1 v6.2 M523.7,452.2 H535.4 M523.7,449.1 v6.2 M535.4,449.1 v6.2 M500.2,417.0 H517.8 M500.2,413.9 v6.2 M517.8,413.9 v6.2 M513.4,396.0 H528.1 M513.4,392.9 v6.2 M528.1,392.9 v6.2 M522.2,405.7 H534.0 M522.2,402.6 v6.2 M534.0,402.6 v6.2 M511.9,373.3 H526.6 M511.9,370.2 v6.2 M526.6,370.2 v6.2 M501.7,369.8 H516.3 M501.7,366.7 v6.2 M516.3,366.7 v6.2 M542.2,132.0 H550.4 M542.2,128.9 v6.2 M550.4,128.9 v6.2 M526.6,143.5 H532.5 M526.6,140.4 v6.2 M532.5,140.4 v6.2 M556.0,212.6 H561.9 M556.0,209.5 v6.2 M561.9,209.5 v6.2 M528.4,263.4 H538.4 M528.4,260.3 v6.2 M538.4,260.3 v6.2 M592.1,281.3 H600.9 M592.1,278.2 v6.2 M600.9,278.2 v6.2 M575.9,281.3 H599.4 M575.9,278.2 v6.2 M599.4,278.2 v6.2 M496.4,299.2 H516.9 M496.4,296.1 v6.2 M516.9,296.1 v6.2 M501.4,302.1 H521.9 M501.4,299.0 v6.2 M521.9,299.0 v6.2 M492.0,309.5 H512.5 M492.0,306.4 v6.2 M512.5,306.4 v6.2 M516.9,310.8 H525.7 M516.9,307.7 v6.2 M525.7,307.7 v6.2 M521.9,311.2 H530.7 M521.9,308.1 v6.2 M530.7,308.1 v6.2 M518.7,322.4 H530.4 M518.7,319.3 v6.2 M530.4,319.3 v6.2 M505.8,333.3 H528.7 M505.8,330.2 v6.2 M528.7,330.2 v6.2 M521.3,342.6 H530.1 M521.3,339.5 v6.2 M530.1,339.5 v6.2 M573.0,343.2 H579.5 M573.0,340.1 v6.2 M579.5,340.1 v6.2 M573.9,364.2 H582.1 M573.9,361.1 v6.2 M582.1,361.1 v6.2 M497.3,367.6 H513.1 M497.3,364.5 v6.2 M513.1,364.5 v6.2 M526.0,369.8 H534.8 M526.0,366.7 v6.2 M534.8,366.7 v6.2 M518.1,369.8 H529.9 M518.1,366.7 v6.2 M529.9,366.7 v6.2 M541.0,371.1 H548.1 M541.0,368.0 v6.2 M548.1,368.0 v6.2 M495.5,377.8 H507.2 M495.5,374.7 v6.2 M507.2,374.7 v6.2 M509.6,377.0 H518.4 M509.6,373.9 v6.2 M518.4,373.9 v6.2 M501.4,380.3 H513.1 M501.4,377.2 v6.2 M513.1,377.2 v6.2 M510.8,383.8 H519.6 M510.8,380.7 v6.2 M519.6,380.7 v6.2 M499.9,388.4 H511.7 M499.9,385.3 v6.2 M511.7,385.3 v6.2 M499.0,392.8 H513.7 M499.0,389.7 v6.2 M513.7,389.7 v6.2 M526.3,417.0 H541.0 M526.3,413.9 v6.2 M541.0,413.9 v6.2 M519.3,417.0 H531.0 M519.3,413.9 v6.2 M531.0,413.9 v6.2 M504.0,424.7 H518.7 M504.0,421.6 v6.2 M518.7,421.6 v6.2 M510.2,424.3 H524.9 M510.2,421.2 v6.2 M524.9,421.2 v6.2 M515.8,427.0 H524.6 M515.8,423.9 v6.2 M524.6,423.9 v6.2 M531.0,426.7 H539.8 M531.0,423.6 v6.2 M539.8,423.6 v6.2 M575.1,427.7 H584.5 M575.1,424.6 v6.2 M584.5,424.6 v6.2 M511.4,429.3 H523.1 M511.4,426.2 v6.2 M523.1,426.2 v6.2 M519.3,433.2 H528.1 M519.3,430.1 v6.2 M528.1,430.1 v6.2 M523.1,435.3 H531.9 M523.1,432.2 v6.2 M531.9,432.2 v6.2 M521.0,439.3 H535.7 M521.0,436.2 v6.2 M535.7,436.2 v6.2 M529.6,439.0 H538.4 M529.6,435.9 v6.2 M538.4,435.9 v6.2 M536.9,441.5 H545.7 M536.9,438.4 v6.2 M545.7,438.4 v6.2 M526.6,441.5 H535.4 M526.6,438.4 v6.2 M535.4,438.4 v6.2 M519.9,442.3 H528.7 M519.9,439.2 v6.2 M528.7,439.2 v6.2 M506.1,445.3 H517.8 M506.1,442.2 v6.2 M517.8,442.2 v6.2 M503.1,449.5 H523.7 M503.1,446.4 v6.2 M523.7,446.4 v6.2 M585.3,455.1 H594.2 M585.3,452.0 v6.2 M594.2,452.0 v6.2 M522.2,468.0 H531.0 M522.2,464.9 v6.2 M531.0,464.9 v6.2 M501.4,462.5 H516.1 M501.4,459.4 v6.2 M516.1,459.4 v6.2 M509.0,466.0 H520.8 M509.0,462.9 v6.2 M520.8,462.9 v6.2 M499.9,469.2 H508.7 M499.9,466.1 v6.2 M508.7,466.1 v6.2 M523.1,468.0 H531.9 M523.1,464.9 v6.2 M531.9,464.9 v6.2 M499.3,467.0 H508.1 M499.3,463.9 v6.2 M508.1,463.9 v6.2 M513.7,472.2 H525.4 M513.7,469.1 v6.2 M525.4,469.1 v6.2 M526.6,470.0 H535.4 M526.6,466.9 v6.2 M535.4,466.9 v6.2 M533.7,475.7 H542.5 M533.7,472.6 v6.2 M542.5,472.6 v6.2 M558.6,544.3 H587.4 M558.6,541.2 v6.2 M587.4,541.2 v6.2" stroke="#5a5a5a" stroke-width="0.9" fill="none"/>
<g stroke="#000" stroke-width="1.6">
<circle cx="509.0" cy="447.0" r="2.2" fill="hsl(278,100%,50%)"/>
<circle cx="532.5" cy="447.0" r="2.0" fill="hsl(218,100%,50%)"/>
<circle cx="516.3" cy="435.3" r="2.5" fill="hsl(259,100%,50%)"/>
<circle cx="536.9" cy="435.3" r="2.0" fill="hsl(206,100%,50%)"/>
<circle cx="511.9" cy="468.0" r="2.5" fill="hsl(270,100%,50%)"/>
<circle cx="517.8" cy="452.2" r="2.5" fill="hsl(255,100%,50%)"/>
<circle cx="529.6" cy="452.2" r="2.0" fill="hsl(225,100%,50%)"/>
<circle cx="509.0" cy="417.0" r="2.0" fill="hsl(278,100%,50%)"/>
<circle cx="520.8" cy="396.0" r="2.0" fill="hsl(248,100%,50%)"/>
<circle cx="528.1" cy="405.7" r="2.2" fill="hsl(229,100%,50%)"/>
<circle cx="519.3" cy="373.3" r="2.0" fill="hsl(251,100%,50%)"/>
<circle cx="509.0" cy="369.8" r="2.0" fill="hsl(278,100%,50%)"/>
<circle cx="546.3" cy="132.0" r="2.3" fill="hsl(182,100%,50%)"/>
<circle cx="529.6" cy="143.5" r="2.8" fill="hsl(225,100%,50%)"/>
<circle cx="578.3" cy="157.2" r="5.8" fill="hsl(100,100%,50%)"/>
<circle cx="585.3" cy="148.8" r="7.8" fill="hsl(82,100%,50%)"/>
<circle cx="605.0" cy="155.7" r="6.1" fill="hsl(32,100%,50%)"/>
<circle cx="587.1" cy="165.8" r="7.5" fill="hsl(78,100%,50%)"/>
<circle cx="558.9" cy="212.6" r="3.4" fill="hsl(150,100%,50%)"/>
<circle cx="567.7" cy="216.2" r="4.6" fill="hsl(128,100%,50%)"/>
<circle cx="570.7" cy="240.6" r="3.6" fill="hsl(120,100%,50%)"/>
<circle cx="572.7" cy="243.2" r="4.3" fill="hsl(115,100%,50%)"/>
<circle cx="533.4" cy="263.4" r="3.6" fill="hsl(215,100%,50%)"/>
<circle cx="566.6" cy="268.0" r="4.4" fill="hsl(130,100%,50%)"/>
<circle cx="596.5" cy="281.3" r="4.2" fill="hsl(54,100%,50%)"/>
<circle cx="587.7" cy="281.3" r="2.7" fill="hsl(76,100%,50%)"/>
<circle cx="506.7" cy="299.2" r="3.6" fill="hsl(284,100%,50%)"/>
<circle cx="511.7" cy="302.1" r="3.6" fill="hsl(271,100%,50%)"/>
<circle cx="540.1" cy="299.7" r="4.3" fill="hsl(198,100%,50%)"/>
<circle cx="540.1" cy="303.0" r="4.0" fill="hsl(198,100%,50%)"/>
<circle cx="542.8" cy="304.0" r="4.2" fill="hsl(191,100%,50%)"/>
<circle cx="502.3" cy="309.5" r="1.8" fill="hsl(295,100%,50%)"/>
<circle cx="521.3" cy="310.8" r="3.0" fill="hsl(246,100%,50%)"/>
<circle cx="526.3" cy="311.2" r="4.2" fill="hsl(233,100%,50%)"/>
<circle cx="524.6" cy="322.4" r="2.4" fill="hsl(238,100%,50%)"/>
<circle cx="517.2" cy="333.3" r="3.0" fill="hsl(256,100%,50%)"/>
<circle cx="525.7" cy="342.6" r="3.2" fill="hsl(235,100%,50%)"/>
<circle cx="576.2" cy="343.2" r="3.0" fill="hsl(106,100%,50%)"/>
<circle cx="576.8" cy="358.0" r="3.5" fill="hsl(104,100%,50%)"/>
<circle cx="578.0" cy="364.2" r="2.2" fill="hsl(101,100%,50%)"/>
<circle cx="505.2" cy="367.6" r="1.9" fill="hsl(287,100%,50%)"/>
<circle cx="530.4" cy="369.8" r="3.9" fill="hsl(223,100%,50%)"/>
<circle cx="524.0" cy="369.8" r="2.0" fill="hsl(239,100%,50%)"/>
<circle cx="532.2" cy="371.0" r="5.0" fill="hsl(218,100%,50%)"/>
<circle cx="544.5" cy="371.1" r="4.5" fill="hsl(187,100%,50%)"/>
<circle cx="501.4" cy="377.8" r="3.0" fill="hsl(297,100%,50%)"/>
<circle cx="577.1" cy="373.3" r="3.5" fill="hsl(104,100%,50%)"/>
<circle cx="514.0" cy="377.0" r="1.7" fill="hsl(265,100%,50%)"/>
<circle cx="507.2" cy="380.3" r="2.1" fill="hsl(282,100%,50%)"/>
<circle cx="524.3" cy="382.5" r="6.7" fill="hsl(238,100%,50%)"/>
<circle cx="515.2" cy="383.8" r="3.5" fill="hsl(262,100%,50%)"/>
<circle cx="577.1" cy="385.4" r="3.9" fill="hsl(104,100%,50%)"/>
<circle cx="577.4" cy="188.4" r="7.0" fill="hsl(103,100%,50%)"/>
<circle cx="505.8" cy="388.4" r="1.5" fill="hsl(286,100%,50%)"/>
<circle cx="506.4" cy="392.8" r="2.6" fill="hsl(284,100%,50%)"/>
<circle cx="535.4" cy="396.0" r="4.4" fill="hsl(210,100%,50%)"/>
<circle cx="584.5" cy="405.7" r="4.8" fill="hsl(85,100%,50%)"/>
<circle cx="525.2" cy="413.3" r="6.7" fill="hsl(236,100%,50%)"/>
<circle cx="533.7" cy="417.0" r="4.8" fill="hsl(214,100%,50%)"/>
<circle cx="525.2" cy="417.0" r="2.6" fill="hsl(236,100%,50%)"/>
<circle cx="600.6" cy="420.4" r="6.0" fill="hsl(44,100%,50%)"/>
<circle cx="511.4" cy="424.7" r="3.9" fill="hsl(272,100%,50%)"/>
<circle cx="517.5" cy="424.3" r="2.2" fill="hsl(256,100%,50%)"/>
<circle cx="520.2" cy="427.0" r="2.6" fill="hsl(249,100%,50%)"/>
<circle cx="535.4" cy="426.7" r="3.6" fill="hsl(210,100%,50%)"/>
<circle cx="579.8" cy="427.7" r="2.3" fill="hsl(97,100%,50%)"/>
<circle cx="517.2" cy="429.3" r="3.2" fill="hsl(256,100%,50%)"/>
<circle cx="523.7" cy="433.2" r="2.6" fill="hsl(240,100%,50%)"/>
<circle cx="527.5" cy="435.3" r="5.0" fill="hsl(230,100%,50%)"/>
<circle cx="528.4" cy="439.3" r="3.5" fill="hsl(228,100%,50%)"/>
<circle cx="534.0" cy="439.0" r="4.4" fill="hsl(214,100%,50%)"/>
<circle cx="541.3" cy="441.5" r="4.8" fill="hsl(195,100%,50%)"/>
<circle cx="531.0" cy="441.5" r="3.4" fill="hsl(221,100%,50%)"/>
<circle cx="524.3" cy="442.3" r="2.2" fill="hsl(238,100%,50%)"/>
<circle cx="511.9" cy="445.3" r="2.3" fill="hsl(270,100%,50%)"/>
<circle cx="521.9" cy="447.0" r="6.2" fill="hsl(244,100%,50%)"/>
<circle cx="513.4" cy="449.5" r="2.1" fill="hsl(266,100%,50%)"/>
<circle cx="542.5" cy="452.2" r="5.8" fill="hsl(192,100%,50%)"/>
<circle cx="593.6" cy="453.3" r="4.4" fill="hsl(62,100%,50%)"/>
<circle cx="589.7" cy="455.1" r="2.6" fill="hsl(71,100%,50%)"/>
<circle cx="526.6" cy="468.0" r="2.5" fill="hsl(232,100%,50%)"/>
<circle cx="508.7" cy="462.5" r="3.0" fill="hsl(278,100%,50%)"/>
<circle cx="514.9" cy="466.0" r="4.0" fill="hsl(262,100%,50%)"/>
<circle cx="504.3" cy="469.2" r="4.9" fill="hsl(290,100%,50%)"/>
<circle cx="527.5" cy="468.0" r="5.8" fill="hsl(230,100%,50%)"/>
<circle cx="503.7" cy="467.0" r="2.3" fill="hsl(291,100%,50%)"/>
<circle cx="519.6" cy="472.2" r="2.5" fill="hsl(250,100%,50%)"/>
<circle cx="531.0" cy="470.0" r="1.7" fill="hsl(221,100%,50%)"/>
<circle cx="538.1" cy="475.7" r="3.0" fill="hsl(203,100%,50%)"/>
<circle cx="546.3" cy="479.5" r="3.9" fill="hsl(182,100%,50%)"/>
<circle cx="552.5" cy="508.2" r="5.4" fill="hsl(166,100%,50%)"/>
<circle cx="573.0" cy="544.3" r="5.0" fill="hsl(114,100%,50%)"/>
</g></g>
<rect x="494.50" y="8.20" width="123.10" height="561.30" fill="none" stroke="#000" stroke-width="2.1"/>
<path d="M500.20,8.20 v-7.6 M500.20,569.50 v7.6 M514.88,8.20 v-4.1 M514.88,569.50 v4.1 M529.56,8.20 v-7.6 M529.56,569.50 v7.6 M544.24,8.20 v-4.1 M544.24,569.50 v4.1 M558.92,8.20 v-7.6 M558.92,569.50 v7.6 M573.60,8.20 v-4.1 M573.60,569.50 v4.1 M588.28,8.20 v-7.6 M588.28,569.50 v7.6 M602.96,8.20 v-4.1 M602.96,569.50 v4.1 M617.64,8.20 v-7.6 M617.64,569.50 v7.6 M494.50,569.90 h-4.1 M617.60,569.90 h4.1 M494.50,507.40 h-7.6 M617.60,507.40 h7.6 M494.50,444.90 h-4.1 M617.60,444.90 h4.1 M494.50,382.40 h-7.6 M617.60,382.40 h7.6 M494.50,319.90 h-4.1 M617.60,319.90 h4.1 M494.50,257.40 h-7.6 M617.60,257.40 h7.6 M494.50,194.90 h-4.1 M617.60,194.90 h4.1 M494.50,132.40 h-7.6 M617.60,132.40 h7.6 M494.50,69.90 h-4.1 M617.60,69.90 h4.1 M494.50,8.20 h-7.6 M617.60,8.20 h7.6" stroke="#000" stroke-width="0.9" fill="none"/>
<g font-size="17.3">
<text x="651" y="513.9" text-anchor="end">6</text>
<text x="651" y="388.9" text-anchor="end">7</text>
<text x="651" y="263.9" text-anchor="end">8</text>
<text x="651" y="138.9" text-anchor="end">9</text>
<text x="651" y="14.7" text-anchor="end">10</text>
<text x="500.2" y="597" text-anchor="middle">0</text>
<text x="529.1" y="597" text-anchor="middle">10</text>
<text x="558.4" y="597" text-anchor="middle">20</text>
<text x="587.8" y="597" text-anchor="middle">30</text>
<text x="616.1" y="597" text-anchor="middle">40</text>
</g>
<text x="555.7" y="624.8" font-size="23" text-anchor="middle">depth (km)</text>
<text transform="translate(678.5,289.5) rotate(-90)" font-size="23" text-anchor="middle">latitude (°N)</text>
<g clip-path="url(#bc)">
<path d="M358.1,616.3 V634.0 M355.0,616.3 h6.2 M355.0,634.0 h6.2 M358.1,642.8 V654.6 M355.0,642.8 h6.2 M355.0,654.6 h6.2 M382.5,625.1 V639.9 M379.4,625.1 h6.2 M379.4,639.9 h6.2 M382.5,647.2 V659.0 M379.4,647.2 h6.2 M379.4,659.0 h6.2 M393.3,619.2 V636.9 M390.2,619.2 h6.2 M390.2,636.9 h6.2 M374.8,625.1 V642.8 M371.7,625.1 h6.2 M371.7,642.8 h6.2 M374.8,639.9 V651.6 M371.7,639.9 h6.2 M371.7,651.6 h6.2 M376.6,616.3 V634.0 M373.5,616.3 h6.2 M373.5,634.0 h6.2 M358.6,629.5 V644.3 M355.5,629.5 h6.2 M355.5,644.3 h6.2 M347.2,638.4 V650.2 M344.1,638.4 h6.2 M344.1,650.2 h6.2 M385.2,628.1 V642.8 M382.1,628.1 h6.2 M382.1,642.8 h6.2 M363.0,617.8 V632.5 M359.9,617.8 h6.2 M359.9,632.5 h6.2 M172.0,658.4 V666.6 M168.9,658.4 h6.2 M168.9,666.6 h6.2 M254.3,642.8 V648.7 M251.2,642.8 h6.2 M251.2,648.7 h6.2 M222.8,672.2 V678.1 M219.7,672.2 h6.2 M219.7,678.1 h6.2 M266.5,644.6 V654.6 M263.4,644.6 h6.2 M263.4,654.6 h6.2 M289.2,708.4 V717.3 M286.1,708.4 h6.2 M286.1,717.3 h6.2 M289.2,692.3 V715.8 M286.1,692.3 h6.2 M286.1,715.8 h6.2 M302.2,612.5 V633.1 M299.1,612.5 h6.2 M299.1,633.1 h6.2 M304.9,617.5 V638.1 M301.8,617.5 h6.2 M301.8,638.1 h6.2 M320.5,608.1 V628.7 M317.4,608.1 h6.2 M317.4,628.7 h6.2 M317.0,633.1 V641.9 M313.9,633.1 h6.2 M313.9,641.9 h6.2 M318.0,638.1 V646.9 M314.9,638.1 h6.2 M314.9,646.9 h6.2 M334.0,634.8 V646.6 M330.9,634.8 h6.2 M330.9,646.6 h6.2 M348.2,621.9 V644.9 M345.1,621.9 h6.2 M345.1,644.9 h6.2 M285.0,637.5 V646.3 M281.9,637.5 h6.2 M281.9,646.3 h6.2 M359.5,689.3 V695.8 M356.4,689.3 h6.2 M356.4,695.8 h6.2 M351.8,690.2 V698.4 M348.7,690.2 h6.2 M348.7,698.4 h6.2 M384.3,613.4 V629.3 M381.2,613.4 h6.2 M381.2,629.3 h6.2 M363.0,642.2 V651.0 M359.9,642.2 h6.2 M359.9,651.0 h6.2 M363.0,634.3 V646.0 M359.9,634.3 h6.2 M359.9,646.0 h6.2 M209.1,657.2 V664.3 M206.0,657.2 h6.2 M206.0,664.3 h6.2 M385.6,611.6 V623.4 M382.5,611.6 h6.2 M382.5,623.4 h6.2 M366.6,625.7 V634.6 M363.5,625.7 h6.2 M363.5,634.6 h6.2 M329.7,617.5 V629.3 M326.6,617.5 h6.2 M326.6,629.3 h6.2 M385.2,626.9 V635.7 M382.1,626.9 h6.2 M382.1,635.7 h6.2 M361.4,616.0 V627.8 M358.3,616.0 h6.2 M358.3,627.8 h6.2 M363.2,615.1 V629.8 M360.1,615.1 h6.2 M360.1,629.8 h6.2 M376.6,642.5 V657.2 M373.5,642.5 h6.2 M373.5,657.2 h6.2 M376.6,635.4 V647.2 M373.5,635.4 h6.2 M373.5,647.2 h6.2 M320.9,620.1 V634.8 M317.8,620.1 h6.2 M317.8,634.8 h6.2 M349.5,626.3 V641.0 M346.4,626.3 h6.2 M346.4,641.0 h6.2 M341.6,631.9 V640.7 M338.5,631.9 h6.2 M338.5,640.7 h6.2 M346.5,647.2 V656.0 M343.4,647.2 h6.2 M343.4,656.0 h6.2 M355.0,691.4 V700.8 M351.9,691.4 h6.2 M351.9,700.8 h6.2 M387.1,627.5 V639.3 M384.0,627.5 h6.2 M384.0,639.3 h6.2 M361.6,635.4 V644.3 M358.5,635.4 h6.2 M358.5,644.3 h6.2 M382.5,639.3 V648.1 M379.4,639.3 h6.2 M379.4,648.1 h6.2 M299.3,637.2 V651.9 M296.2,637.2 h6.2 M296.2,651.9 h6.2 M315.5,645.7 V654.6 M312.4,645.7 h6.2 M312.4,654.6 h6.2 M374.8,653.1 V661.9 M371.7,653.1 h6.2 M371.7,661.9 h6.2 M374.8,642.8 V651.6 M371.7,642.8 h6.2 M371.7,651.6 h6.2 M375.8,636.0 V644.9 M372.7,636.0 h6.2 M372.7,644.9 h6.2 M394.2,622.2 V634.0 M391.1,622.2 h6.2 M391.1,634.0 h6.2 M386.1,619.2 V639.9 M383.0,619.2 h6.2 M383.0,639.9 h6.2 M399.8,701.7 V710.5 M396.7,701.7 h6.2 M396.7,710.5 h6.2 M348.0,638.4 V647.2 M344.9,638.4 h6.2 M344.9,647.2 h6.2 M348.3,617.5 V632.2 M345.2,617.5 h6.2 M345.2,632.2 h6.2 M352.4,625.1 V636.9 M349.3,625.1 h6.2 M349.3,636.9 h6.2 M313.4,616.0 V624.8 M310.3,616.0 h6.2 M310.3,624.8 h6.2 M393.3,639.3 V648.1 M390.2,639.3 h6.2 M390.2,648.1 h6.2 M391.0,615.4 V624.2 M387.9,615.4 h6.2 M387.9,624.2 h6.2 M397.8,629.8 V641.6 M394.7,629.8 h6.2 M394.7,641.6 h6.2 M396.0,642.8 V651.6 M392.9,642.8 h6.2 M392.9,651.6 h6.2 M335.2,649.9 V658.7 M332.1,649.9 h6.2 M332.1,658.7 h6.2 M343.8,674.9 V703.7 M340.7,674.9 h6.2 M340.7,703.7 h6.2" stroke="#5a5a5a" stroke-width="0.9" fill="none"/>
<g stroke="#000" stroke-width="1.6">
<circle cx="358.1" cy="625.1" r="2.2" fill="hsl(278,100%,50%)"/>
<circle cx="358.1" cy="648.7" r="2.0" fill="hsl(218,100%,50%)"/>
<circle cx="382.5" cy="632.5" r="2.5" fill="hsl(259,100%,50%)"/>
<circle cx="382.5" cy="653.1" r="2.0" fill="hsl(206,100%,50%)"/>
<circle cx="393.3" cy="628.1" r="2.5" fill="hsl(270,100%,50%)"/>
<circle cx="374.8" cy="634.0" r="2.5" fill="hsl(255,100%,50%)"/>
<circle cx="374.8" cy="645.7" r="2.0" fill="hsl(225,100%,50%)"/>
<circle cx="376.6" cy="625.1" r="2.0" fill="hsl(278,100%,50%)"/>
<circle cx="358.6" cy="636.9" r="2.0" fill="hsl(248,100%,50%)"/>
<circle cx="347.2" cy="644.3" r="2.2" fill="hsl(229,100%,50%)"/>
<circle cx="385.2" cy="635.4" r="2.0" fill="hsl(251,100%,50%)"/>
<circle cx="363.0" cy="625.1" r="2.0" fill="hsl(278,100%,50%)"/>
<circle cx="172.0" cy="662.5" r="2.3" fill="hsl(182,100%,50%)"/>
<circle cx="254.3" cy="645.7" r="2.8" fill="hsl(225,100%,50%)"/>
<circle cx="347.8" cy="694.6" r="5.8" fill="hsl(100,100%,50%)"/>
<circle cx="351.3" cy="701.7" r="7.8" fill="hsl(82,100%,50%)"/>
<circle cx="353.1" cy="721.4" r="6.1" fill="hsl(32,100%,50%)"/>
<circle cx="353.6" cy="703.4" r="7.5" fill="hsl(78,100%,50%)"/>
<circle cx="222.8" cy="675.2" r="3.4" fill="hsl(150,100%,50%)"/>
<circle cx="225.1" cy="684.0" r="4.6" fill="hsl(128,100%,50%)"/>
<circle cx="160.9" cy="687.0" r="3.6" fill="hsl(120,100%,50%)"/>
<circle cx="162.1" cy="689.0" r="4.3" fill="hsl(115,100%,50%)"/>
<circle cx="266.5" cy="649.6" r="3.6" fill="hsl(215,100%,50%)"/>
<circle cx="314.2" cy="682.8" r="4.4" fill="hsl(130,100%,50%)"/>
<circle cx="289.2" cy="712.9" r="4.2" fill="hsl(54,100%,50%)"/>
<circle cx="289.2" cy="704.0" r="2.7" fill="hsl(76,100%,50%)"/>
<circle cx="302.2" cy="622.8" r="3.6" fill="hsl(284,100%,50%)"/>
<circle cx="304.9" cy="627.8" r="3.6" fill="hsl(271,100%,50%)"/>
<circle cx="173.4" cy="656.3" r="4.3" fill="hsl(198,100%,50%)"/>
<circle cx="318.6" cy="656.3" r="4.0" fill="hsl(198,100%,50%)"/>
<circle cx="319.3" cy="659.0" r="4.2" fill="hsl(191,100%,50%)"/>
<circle cx="320.5" cy="618.4" r="1.8" fill="hsl(295,100%,50%)"/>
<circle cx="317.0" cy="637.5" r="3.0" fill="hsl(246,100%,50%)"/>
<circle cx="318.0" cy="642.5" r="4.2" fill="hsl(233,100%,50%)"/>
<circle cx="334.0" cy="640.7" r="2.4" fill="hsl(238,100%,50%)"/>
<circle cx="348.2" cy="633.4" r="3.0" fill="hsl(256,100%,50%)"/>
<circle cx="285.0" cy="641.9" r="3.2" fill="hsl(235,100%,50%)"/>
<circle cx="359.5" cy="692.5" r="3.0" fill="hsl(106,100%,50%)"/>
<circle cx="348.2" cy="693.1" r="3.5" fill="hsl(104,100%,50%)"/>
<circle cx="351.8" cy="694.3" r="2.2" fill="hsl(101,100%,50%)"/>
<circle cx="384.3" cy="621.3" r="1.9" fill="hsl(287,100%,50%)"/>
<circle cx="363.0" cy="646.6" r="3.9" fill="hsl(223,100%,50%)"/>
<circle cx="363.0" cy="640.1" r="2.0" fill="hsl(239,100%,50%)"/>
<circle cx="209.0" cy="648.4" r="5.0" fill="hsl(218,100%,50%)"/>
<circle cx="209.1" cy="660.8" r="4.5" fill="hsl(187,100%,50%)"/>
<circle cx="385.6" cy="617.5" r="3.0" fill="hsl(297,100%,50%)"/>
<circle cx="385.2" cy="693.4" r="3.5" fill="hsl(104,100%,50%)"/>
<circle cx="366.6" cy="630.1" r="1.7" fill="hsl(265,100%,50%)"/>
<circle cx="329.7" cy="623.4" r="2.1" fill="hsl(282,100%,50%)"/>
<circle cx="160.8" cy="640.4" r="6.7" fill="hsl(238,100%,50%)"/>
<circle cx="385.2" cy="631.3" r="3.5" fill="hsl(262,100%,50%)"/>
<circle cx="296.6" cy="693.4" r="3.9" fill="hsl(104,100%,50%)"/>
<circle cx="296.2" cy="693.7" r="7.0" fill="hsl(103,100%,50%)"/>
<circle cx="361.4" cy="621.9" r="1.5" fill="hsl(286,100%,50%)"/>
<circle cx="363.2" cy="622.5" r="2.6" fill="hsl(284,100%,50%)"/>
<circle cx="358.6" cy="651.6" r="4.4" fill="hsl(210,100%,50%)"/>
<circle cx="347.2" cy="700.8" r="4.8" fill="hsl(85,100%,50%)"/>
<circle cx="197.1" cy="641.3" r="6.7" fill="hsl(236,100%,50%)"/>
<circle cx="376.6" cy="649.9" r="4.8" fill="hsl(214,100%,50%)"/>
<circle cx="376.6" cy="641.3" r="2.6" fill="hsl(236,100%,50%)"/>
<circle cx="96.3" cy="717.0" r="6.0" fill="hsl(44,100%,50%)"/>
<circle cx="320.9" cy="627.5" r="3.9" fill="hsl(272,100%,50%)"/>
<circle cx="349.5" cy="633.7" r="2.2" fill="hsl(256,100%,50%)"/>
<circle cx="341.6" cy="636.3" r="2.6" fill="hsl(249,100%,50%)"/>
<circle cx="346.5" cy="651.6" r="3.6" fill="hsl(210,100%,50%)"/>
<circle cx="355.0" cy="696.1" r="2.3" fill="hsl(97,100%,50%)"/>
<circle cx="387.1" cy="633.4" r="3.2" fill="hsl(256,100%,50%)"/>
<circle cx="361.6" cy="639.9" r="2.6" fill="hsl(240,100%,50%)"/>
<circle cx="382.5" cy="643.7" r="5.0" fill="hsl(230,100%,50%)"/>
<circle cx="299.3" cy="644.6" r="3.5" fill="hsl(228,100%,50%)"/>
<circle cx="315.5" cy="650.2" r="4.4" fill="hsl(214,100%,50%)"/>
<circle cx="374.8" cy="657.5" r="4.8" fill="hsl(195,100%,50%)"/>
<circle cx="374.8" cy="647.2" r="3.4" fill="hsl(221,100%,50%)"/>
<circle cx="375.8" cy="640.4" r="2.2" fill="hsl(238,100%,50%)"/>
<circle cx="394.2" cy="628.1" r="2.3" fill="hsl(270,100%,50%)"/>
<circle cx="358.1" cy="638.1" r="6.2" fill="hsl(244,100%,50%)"/>
<circle cx="386.1" cy="629.5" r="2.1" fill="hsl(266,100%,50%)"/>
<circle cx="374.8" cy="658.7" r="5.8" fill="hsl(192,100%,50%)"/>
<circle cx="393.3" cy="709.9" r="4.4" fill="hsl(62,100%,50%)"/>
<circle cx="399.8" cy="706.1" r="2.6" fill="hsl(71,100%,50%)"/>
<circle cx="348.0" cy="642.8" r="2.5" fill="hsl(232,100%,50%)"/>
<circle cx="348.3" cy="624.8" r="3.0" fill="hsl(278,100%,50%)"/>
<circle cx="352.4" cy="631.0" r="4.0" fill="hsl(262,100%,50%)"/>
<circle cx="313.4" cy="620.4" r="4.9" fill="hsl(290,100%,50%)"/>
<circle cx="393.3" cy="643.7" r="5.8" fill="hsl(230,100%,50%)"/>
<circle cx="391.0" cy="619.8" r="2.3" fill="hsl(291,100%,50%)"/>
<circle cx="397.8" cy="635.7" r="2.5" fill="hsl(250,100%,50%)"/>
<circle cx="396.0" cy="647.2" r="1.7" fill="hsl(221,100%,50%)"/>
<circle cx="335.2" cy="654.3" r="3.0" fill="hsl(203,100%,50%)"/>
<circle cx="377.8" cy="662.5" r="3.9" fill="hsl(182,100%,50%)"/>
<circle cx="358.6" cy="668.7" r="5.4" fill="hsl(166,100%,50%)"/>
<circle cx="343.8" cy="689.3" r="5.0" fill="hsl(114,100%,50%)"/>
</g></g>
<rect x="61.90" y="610.80" width="412.10" height="123.40" fill="none" stroke="#000" stroke-width="2.1"/>
<path d="M62.30,610.80 v-7.2 M62.30,734.20 v7.2 M124.67,610.80 v-4.0 M124.67,734.20 v4.0 M187.05,610.80 v-7.2 M187.05,734.20 v7.2 M249.43,610.80 v-4.0 M249.43,734.20 v4.0 M311.80,610.80 v-7.2 M311.80,734.20 v7.2 M374.18,610.80 v-4.0 M374.18,734.20 v4.0 M436.55,610.80 v-7.2 M436.55,734.20 v7.2 M61.90,616.30 h-7.6 M474.00,616.30 h7.6 M61.90,631.02 h-4.1 M474.00,631.02 h4.1 M61.90,645.74 h-7.6 M474.00,645.74 h7.6 M61.90,660.46 h-4.1 M474.00,660.46 h4.1 M61.90,675.18 h-7.6 M474.00,675.18 h7.6 M61.90,689.90 h-4.1 M474.00,689.90 h4.1 M61.90,704.62 h-7.6 M474.00,704.62 h7.6 M61.90,719.34 h-4.1 M474.00,719.34 h4.1 M61.90,734.06 h-7.6 M474.00,734.06 h7.6" stroke="#000" stroke-width="0.9" fill="none"/>
<g font-size="17.3">
<text x="46.5" y="622.7" text-anchor="end">0</text>
<text x="46.5" y="652.1" text-anchor="end">10</text>
<text x="46.5" y="681.6" text-anchor="end">20</text>
<text x="46.5" y="711.0" text-anchor="end">30</text>
<text x="46.5" y="740.5" text-anchor="end">40</text>
<text x="62.6" y="761.3" text-anchor="middle">79</text>
<text x="187.4" y="761.3" text-anchor="middle">80</text>
<text x="312.1" y="761.3" text-anchor="middle">81</text>
<text x="436.9" y="761.3" text-anchor="middle">82</text>
</g>
<text transform="translate(20.5,672.5) rotate(-90)" font-size="23" text-anchor="middle">depth (km)</text>
<text x="267.8" y="790.5" font-size="23" text-anchor="middle">longitude (°E)</text>
<g fill="#ccc" stroke="#000" stroke-width="1.8">
<circle cx="510.9" cy="644.3" r="3.0"/><circle cx="511.3" cy="668.8" r="6.0"/><circle cx="511.3" cy="693.6" r="9.2"/>
</g>
<g font-size="17.3">
<text x="536.6" y="650.6">ML = 1</text>
<text x="536.6" y="675.2">ML = 2</text>
<text x="536.6" y="700.0">ML = 3</text>
</g>
<rect x="494.4" y="718" width="123.4" height="12" fill="url(#cb)" stroke="#000" stroke-width="2.1"/>
<path d="M494.40,730 v7.6 M525.25,730 v7.6 M556.10,730 v7.6 M586.95,730 v7.6 M617.80,730 v7.6" stroke="#000" stroke-width="0.9" fill="none"/>
<g font-size="17.3">
<text x="494.4" y="757.3" text-anchor="middle">0</text>
<text x="525.2" y="757.3" text-anchor="middle">10</text>
<text x="556.1" y="757.3" text-anchor="middle">20</text>
<text x="587.0" y="757.3" text-anchor="middle">30</text>
<text x="616.6" y="757.3" text-anchor="middle">40</text>
</g>
<text x="552.5" y="781" font-size="17.6" text-anchor="middle">depth (km)</text>
</svg>
</body></html>
